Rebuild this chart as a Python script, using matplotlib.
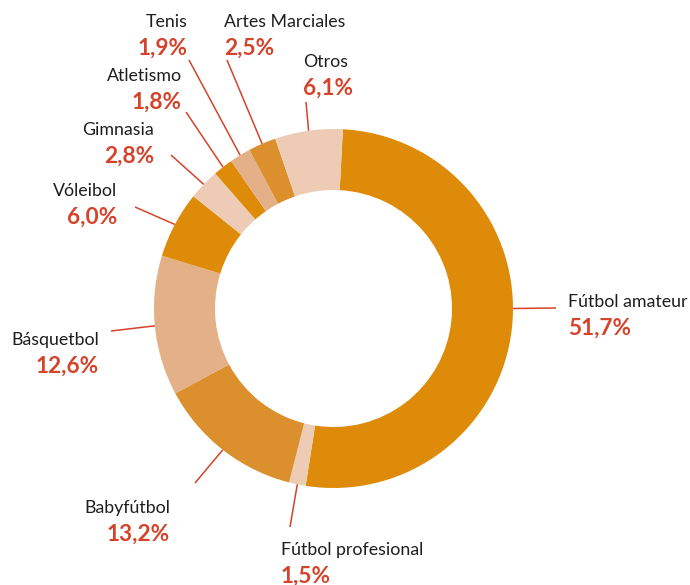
import matplotlib
matplotlib.use('Agg')
import matplotlib.pyplot as plt
import numpy as np

# deportes y su participación (%)
sports = ['Fútbol amateur', 'Fútbol profesional', 'Babyfútbol', 'Básquetbol',
          'Vóleibol', 'Gimnasia', 'Atletismo', 'Tenis', 'Artes Marciales', 'Otros']
shares = [51.7, 1.5, 13.2, 12.6, 6.0, 2.8, 1.8, 1.9, 2.5, 6.1]

DARK = '#de8b09'
MID = '#dc8f2d'
TAN = '#e4b087'
PALE = '#eecbb4'
colors = [DARK, PALE, MID, TAN, DARK, PALE, DARK, TAN, MID, PALE]

RED = '#d5432b'

# label placement, in pixels from the ring centre: (line end, name position, alignment)
layout = {
    'Fútbol amateur':     ((222.5, 0.5),     (234.5, 6.5),    'left'),
    'Fútbol profesional': ((-43.5, -218.5),  (-52.5, -241.5), 'left'),
    'Babyfútbol':         ((-138.5, -174.5), (-163.5, -199.5), 'right'),
    'Básquetbol':         ((-222.5, -22.5),  (-234.5, -31.5), 'right'),
    'Vóleibol':           ((-198.5, 101.5),  (-216.5, 117.5), 'right'),
    'Gimnasia':           ((-162.5, 153.5),  (-179.5, 178.5), 'right'),
    'Atletismo':          ((-147.5, 196.5),  (-151.5, 232.5), 'right'),
    'Tenis':              ((-144.5, 248.5),  (-145.5, 286.5), 'right'),
    'Artes Marciales':    ((-106.5, 248.5),  (-109.5, 286.5), 'left'),
    'Otros':              ((-27.5, 206.5),   (-30.5, 246.5),  'left'),
}
# the big slice gets a horizontal leader instead of one at its mid-angle
anchor_override = {'Fútbol amateur': 0.0}

R = 179.5
START = 87

fig = plt.figure(figsize=(6.9, 5.85), dpi=100)
ax = fig.add_axes([0, 0, 1, 1])

wedges, _ = ax.pie(shares, colors=colors, radius=R, startangle=START,
                   counterclock=False, normalize=True,
                   wedgeprops=dict(width=61, linewidth=0))

ax.set_xlim(-333.5, 690 - 333.5)
ax.set_ylim(-(585 - 308.5), 308.5)
ax.set_aspect('equal')
ax.axis('off')

for w, name, val in zip(wedges, sports, shares):
    ang = anchor_override.get(name, (w.theta1 + w.theta2) / 2)
    a = np.deg2rad(ang)
    x0, y0 = R * np.cos(a), R * np.sin(a)
    (x1, y1), (tx, ty), ha = layout[name]
    ax.plot([x0, x1], [y0, y1], color=RED, lw=1.1, solid_capstyle='butt')
    ax.text(tx, ty, name, ha=ha, va='center', fontsize=12.8,
            family='Lato', color='#1e1e1e')
    ax.text(tx, ty - 26, f'{val:.1f}%'.replace('.', ','), ha=ha, va='center',
            fontsize=16.3, family='Lato', fontweight='bold', color=RED)

fig.savefig('out.png', dpi=100)
